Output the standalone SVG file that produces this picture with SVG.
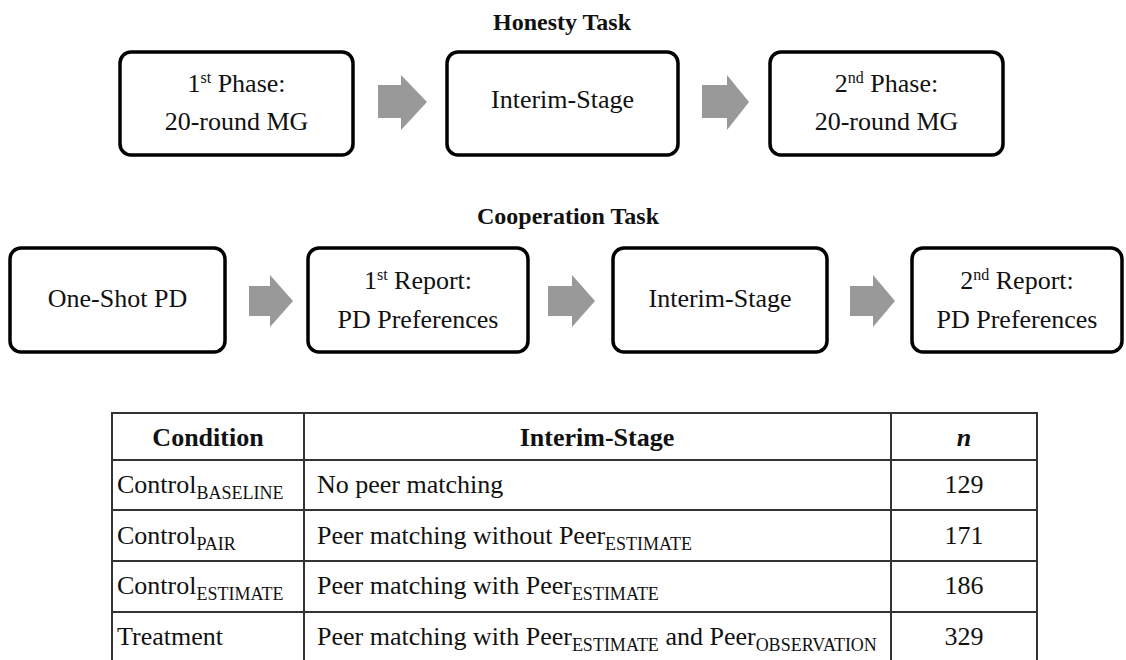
<svg xmlns="http://www.w3.org/2000/svg" width="1126" height="660" viewBox="0 0 1126 660">
<style>
text{font-family:"Liberation Serif","Times New Roman",serif;fill:#111}
.title{font-size:24px;font-weight:bold;text-anchor:middle}
.box{fill:#fff;stroke:#000;stroke-width:3.5}
.bt{font-size:26px;text-anchor:middle}
.arrow{fill:#999}
.tl{stroke:#333;stroke-width:2;fill:none}
.tt{font-size:26px}
.th{font-size:26px;font-weight:bold;text-anchor:middle}
.num{font-size:26px;text-anchor:middle}
.sub{font-size:18px}
</style>
<rect width="1126" height="660" fill="#fff"/>
<text class="title" x="562" y="30">Honesty Task</text>
<text class="title" x="568" y="224">Cooperation Task</text>

<g id="h1"><rect class="box" x="120" y="52" width="233" height="103" rx="11"/>
<text class="bt" x="236.5" y="92">1<tspan font-size="16" dy="-9">st</tspan><tspan dy="9"> Phase:</tspan></text>
<text class="bt" x="236.5" y="130">20-round MG</text></g>
<g id="h2"><rect class="box" x="447" y="52" width="231" height="103" rx="11"/>
<text class="bt" x="562.5" y="108">Interim-Stage</text></g>
<g id="h3"><rect class="box" x="770" y="52" width="233" height="103" rx="11"/>
<text class="bt" x="886.5" y="92">2<tspan font-size="16" dy="-9">nd</tspan><tspan dy="9"> Phase:</tspan></text>
<text class="bt" x="886.5" y="130">20-round MG</text></g>

<g id="c1"><rect class="box" x="10" y="248" width="215" height="104" rx="11"/>
<text class="bt" x="117.5" y="307">One-Shot PD</text></g>
<g id="c2"><rect class="box" x="308" y="248" width="220" height="104" rx="11"/>
<text class="bt" x="418" y="289">1<tspan font-size="16" dy="-9">st</tspan><tspan dy="9"> Report:</tspan></text>
<text class="bt" x="418" y="328">PD Preferences</text></g>
<g id="c3"><rect class="box" x="613" y="248" width="214" height="104" rx="11"/>
<text class="bt" x="720" y="307">Interim-Stage</text></g>
<g id="c4"><rect class="box" x="912" y="248" width="210" height="104" rx="11"/>
<text class="bt" x="1017" y="289">2<tspan font-size="16" dy="-9">nd</tspan><tspan dy="9"> Report:</tspan></text>
<text class="bt" x="1017" y="328">PD Preferences</text></g>

<g id="connectors">
<polygon class="arrow" points="378,85 401,85 401,75 427,102 401,130 401,118 378,118"/>
<polygon class="arrow" points="702,85 727,85 727,75 749,102 727,130 727,118 702,118"/>
<polygon class="arrow" points="249,286 270,286 270,275 293,301 270,327 270,316 249,316"/>
<polygon class="arrow" points="548,286 572,286 572,275 595,301 572,327 572,316 548,316"/>
<polygon class="arrow" points="850,286 873,286 873,275 895,301 873,327 873,316 850,316"/>
</g>

<g id="table">
<rect class="tl" x="112" y="413" width="925" height="260"/>
<line class="tl" x1="304" y1="413" x2="304" y2="673"/>
<line class="tl" x1="891" y1="413" x2="891" y2="673"/>
<line class="tl" x1="112" y1="460" x2="1037" y2="460"/>
<line class="tl" x1="112" y1="510" x2="1037" y2="510"/>
<line class="tl" x1="112" y1="561" x2="1037" y2="561"/>
<line class="tl" x1="112" y1="612" x2="1037" y2="612"/>
<text class="th" x="208" y="446">Condition</text>
<text class="th" x="597" y="446">Interim-Stage</text>
<text class="th" x="964" y="446" font-style="italic">n</text>
<text class="tt" x="117" y="493">Control<tspan class="sub" dy="6">BASELINE</tspan></text>
<text class="tt" x="317" y="493">No peer matching</text>
<text class="num" x="964" y="493">129</text>
<text class="tt" x="117" y="544">Control<tspan class="sub" dy="6">PAIR</tspan></text>
<text class="tt" x="317" y="544">Peer matching without Peer<tspan class="sub" dy="6">ESTIMATE</tspan></text>
<text class="num" x="964" y="544">171</text>
<text class="tt" x="117" y="594">Control<tspan class="sub" dy="6">ESTIMATE</tspan></text>
<text class="tt" x="317" y="594">Peer matching with Peer<tspan class="sub" dy="6">ESTIMATE</tspan></text>
<text class="num" x="964" y="594">186</text>
<text class="tt" x="117" y="645">Treatment</text>
<text class="tt" x="317" y="645">Peer matching with Peer<tspan class="sub" dy="6">ESTIMATE</tspan><tspan dy="-6"> and Peer</tspan><tspan class="sub" dy="6">OBSERVATION</tspan></text>
<text class="num" x="964" y="645">329</text>
</g>
</svg>
